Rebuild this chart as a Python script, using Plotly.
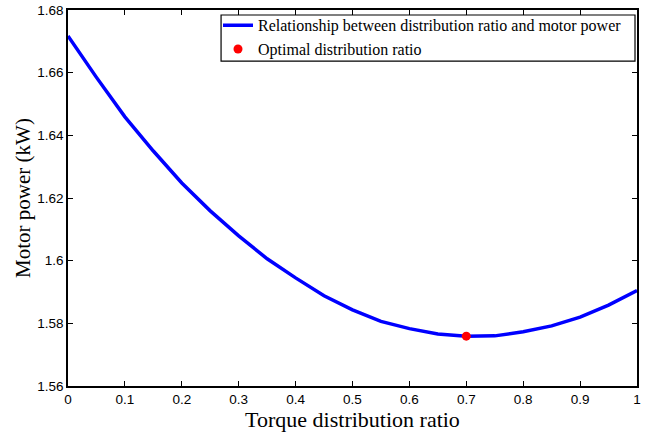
import plotly.graph_objects as go

ratio = [0.0, 0.05, 0.1, 0.15, 0.2, 0.25, 0.3, 0.35, 0.4, 0.45, 0.5,
         0.55, 0.6, 0.65, 0.7, 0.75, 0.8, 0.85, 0.9, 0.95, 1.0]
power = [1.6717, 1.6585, 1.6459, 1.6350, 1.6248, 1.6159, 1.6079, 1.6006, 1.5945, 1.5888, 1.5843,
         1.5806, 1.5783, 1.5766, 1.5759, 1.5760, 1.5773, 1.5792, 1.5820, 1.5858, 1.5905]
opt_ratio = [0.7]
opt_power = [1.5759]

x_ticks = [0, 0.1, 0.2, 0.3, 0.4, 0.5, 0.6, 0.7, 0.8, 0.9, 1]
x_labels = ["0", "0.1", "0.2", "0.3", "0.4", "0.5", "0.6", "0.7", "0.8", "0.9", "1"]
y_ticks = [1.56, 1.58, 1.60, 1.62, 1.64, 1.66, 1.68]
y_labels = ["1.56", "1.58", "1.6", "1.62", "1.64", "1.66", "1.68"]

tick_font = dict(family="Liberation Sans Narrow, Arial Narrow, Liberation Sans, Arial", size=13.5, color="black")
serif = "Liberation Serif, Times New Roman, serif"

fig = go.Figure()
fig.add_trace(go.Scatter(x=ratio, y=power, mode="lines",
                         line=dict(color="rgb(0,0,255)", width=3.5),
                         name="Relationship between distribution ratio and motor power"))
fig.add_trace(go.Scatter(x=opt_ratio, y=opt_power, mode="markers",
                         marker=dict(color="red", size=9, symbol="circle"),
                         name="Optimal distribution ratio"))

axis_common = dict(showgrid=False, zeroline=False, showline=True, linecolor="black", linewidth=1.5,
                   mirror="ticks", ticks="inside", ticklen=5, tickwidth=1, tickcolor="black",
                   tickfont=tick_font, automargin=False)

# legend frame
fig.add_shape(type="rect", xref="paper", yref="paper",
              x0=0.269, x1=0.9965, y0=0.864, y1=0.9867,
              line=dict(color="black", width=1.2), fillcolor="white", layer="above")

fig.update_layout(
    width=654, height=435,
    margin=dict(l=68, r=17, t=10, b=49, autoexpand=False),
    paper_bgcolor="white", plot_bgcolor="white",
    showlegend=True,
    legend=dict(x=0.2636, y=1.0044, xanchor="left", yanchor="top",
                borderwidth=0, bgcolor="rgba(0,0,0,0)",
                font=dict(family=serif, size=16, color="black"),
                tracegroupgap=0, itemwidth=30),
    xaxis=dict(range=[0, 1], tickvals=x_ticks, ticktext=x_labels,
               title=dict(text="Torque distribution ratio", standoff=6,
                          font=dict(family=serif, size=22, color="black")),
               **axis_common),
    yaxis=dict(range=[1.56, 1.68], tickvals=y_ticks, ticktext=y_labels,
               title=dict(text="Motor power (kW)", standoff=1,
                          font=dict(family=serif, size=21, color="black")),
               **axis_common),
)

fig.write_html("out.html")
